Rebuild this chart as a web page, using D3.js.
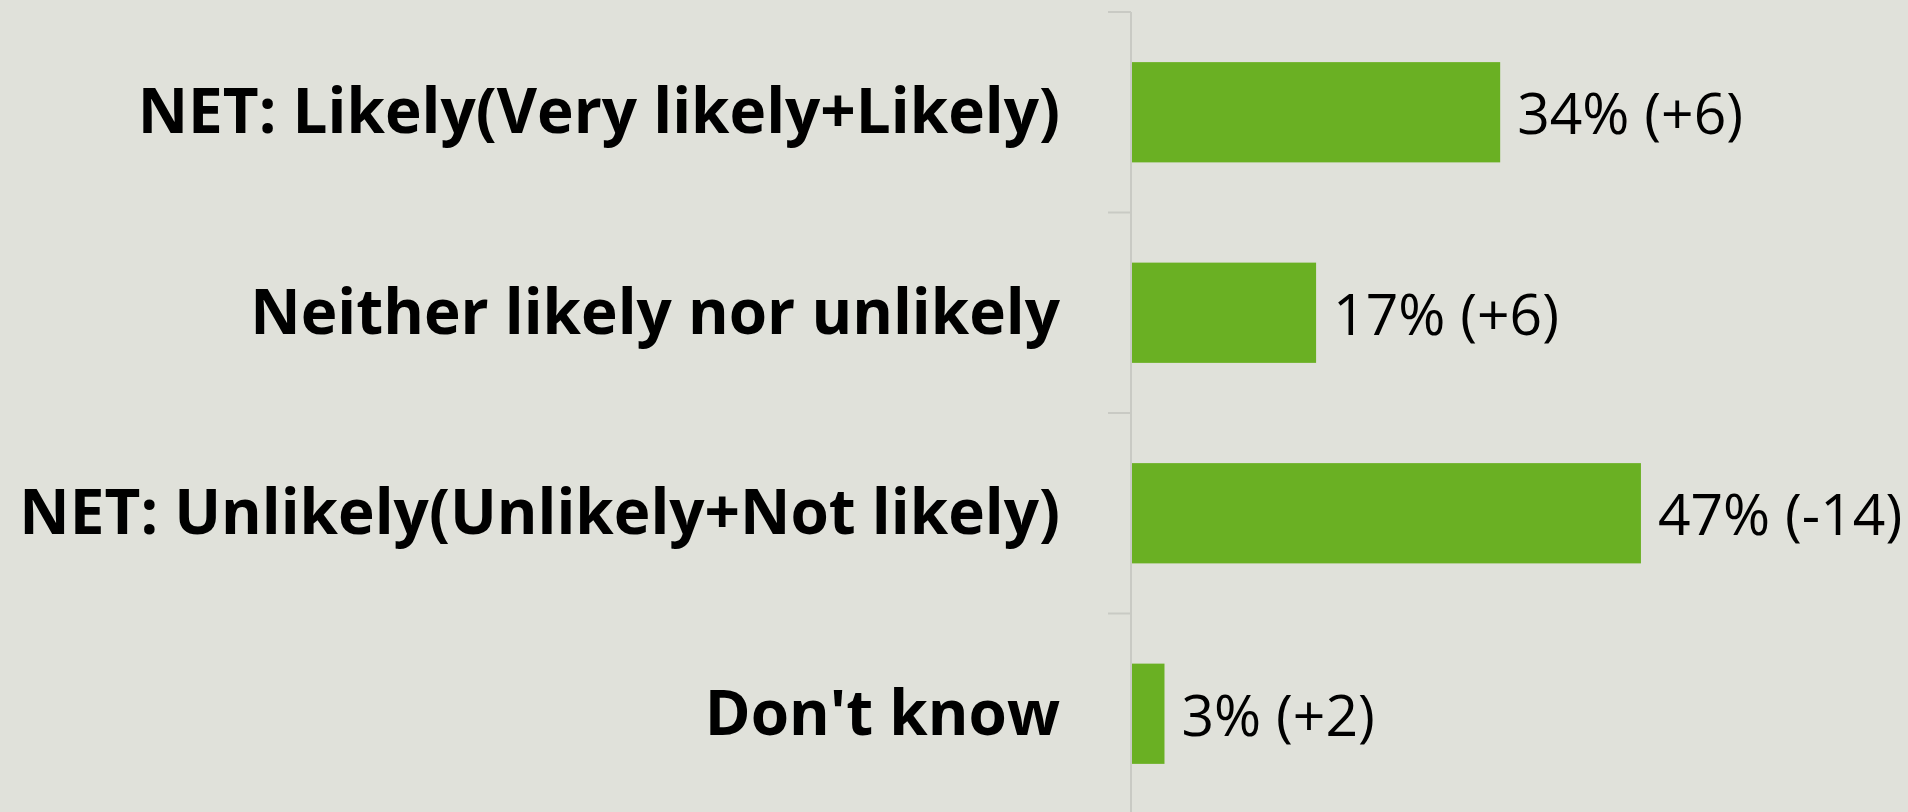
<!DOCTYPE html>
<html>
<head>
<meta charset="utf-8">
<script src="https://cdn.jsdelivr.net/npm/d3@7"></script>
<style>
  html, body { margin: 0; padding: 0; background: #e0e1da; overflow: hidden; }
  svg { display: block; }
</style>
</head>
<body>
<svg id="chart" width="1908" height="812"></svg>
<script>
const categories = [
  "NET: Likely(Very likely+Likely)",
  "Neither likely nor unlikely",
  "NET: Unlikely(Unlikely+Not likely)",
  "Don't know"
];
const values = [34, 17, 47, 3];
const changes = ["+6", "+6", "-14", "+2"];

const svg = d3.select("#chart");
const W = 1908, H = 812;
const axisX = 1132;

const y = d3.scaleBand()
  .domain(categories)
  .range([12, 814])
  .paddingInner(0.5)
  .paddingOuter(0.25);

const x = d3.scaleLinear()
  .domain([0, 70])
  .range([axisX, axisX + 758]);

// bars
svg.selectAll("rect.bar")
  .data(categories)
  .join("rect")
  .attr("class", "bar")
  .attr("x", x(0))
  .attr("y", d => y(d))
  .attr("width", (d, i) => x(values[i]) - x(0))
  .attr("height", y.bandwidth())
  .attr("fill", "#6ab023");

// axis line + ticks at band boundaries
const gAxis = svg.append("g").attr("transform", `translate(${axisX - 1},0)`);
gAxis.append("line")
  .attr("x1", 0).attr("x2", 0)
  .attr("y1", 12).attr("y2", H)
  .attr("stroke", "#c9cac4").attr("stroke-width", 2);
const step = y.step();
const boundaries = d3.range(categories.length + 1).map(i => 12 + i * step);
gAxis.selectAll("line.tick")
  .data(boundaries)
  .join("line")
  .attr("class", "tick")
  .attr("x1", -23).attr("x2", 0)
  .attr("y1", d => d).attr("y2", d => d)
  .attr("stroke", "#c9cac4").attr("stroke-width", 2);

// category labels
svg.selectAll("text.cat")
  .data(categories)
  .join("text")
  .attr("class", "cat")
  .attr("x", 1060)
  .attr("y", d => y(d) + y.bandwidth() / 2 + 21)
  .attr("text-anchor", "end")
  .attr("font-family", "'Open Sans', 'Noto Sans', sans-serif")
  .attr("font-weight", 700)
  .attr("font-size", 62)
  .attr("fill", "#000")
  .text(d => d);

// value labels
svg.selectAll("text.val")
  .data(categories)
  .join("text")
  .attr("class", "val")
  .attr("x", (d, i) => x(values[i]) + 17)
  .attr("y", d => y(d) + y.bandwidth() / 2 + 22)
  .attr("font-family", "'Open Sans', 'Noto Sans', sans-serif")
  .attr("font-weight", 400)
  .attr("font-size", 57)
  .attr("fill", "#000")
  .text((d, i) => `${values[i]}% (${changes[i]})`);
</script>
</body>
</html>
